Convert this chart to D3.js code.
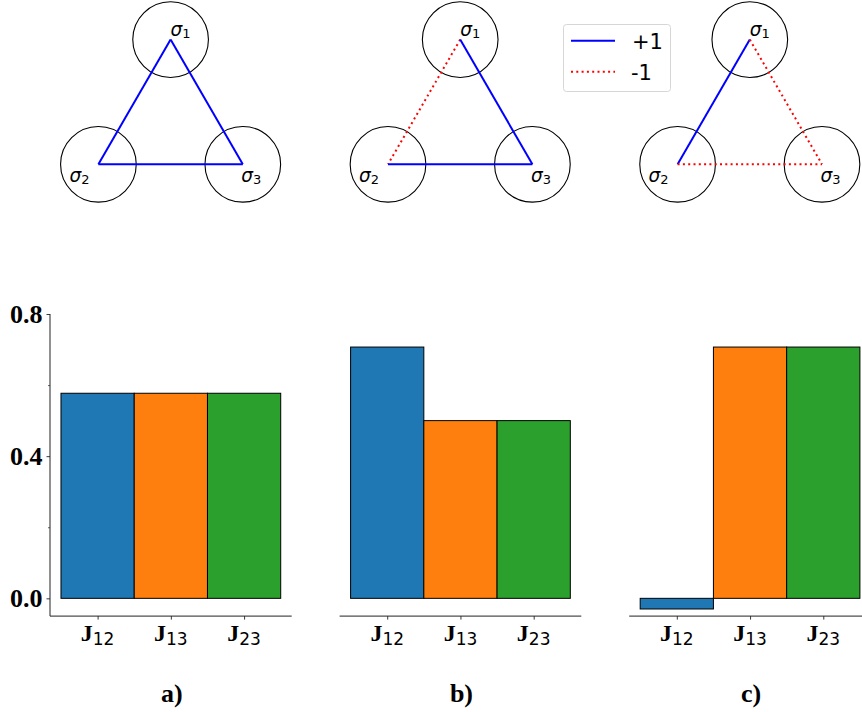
<!DOCTYPE html>
<html>
<head>
<meta charset="utf-8">
<script src="https://cdn.jsdelivr.net/npm/d3@7"></script>
<style>
  html, body { margin: 0; padding: 0; background: #fff; }
  svg { display: block; }
</style>
</head>
<body>
<svg id="chart" width="862" height="712"></svg>
<script>
// Coupling amplitudes J12, J13, J23 for the three spin configurations
const categories = ["12", "13", "23"];
const panelLabels = ["a)", "b)", "c)"];
const valuesA = [0.577, 0.577, 0.577];
const valuesB = [0.707, 0.5, 0.5];
const valuesC = [-0.03, 0.707, 0.707];
const seriesValues = [valuesA, valuesB, valuesC];

// Sign of each bond (J12, J13, J23) in the triangle diagrams
const signsA = [1, 1, 1];
const signsB = [-1, 1, 1];
const signsC = [1, -1, -1];
const bondSigns = [signsA, signsB, signsC];

const spinNames = ["1", "2", "3"];
const legendItems = ["+1", "-1"];
const yTickValues = [0.0, 0.4, 0.8];
const yTickLabels = ["0.0", "0.4", "0.8"];
const yMinorTicks = [0.2, 0.6];

const barColors = ["#1f77b4", "#ff7f0e", "#2ca02c"];
const bondColor = { "1": "#0000ff", "-1": "#ff0000" };

const svg = d3.select("#chart");

// ---- Layout
const panelStep = 289.6;
const axLeft0 = 50, axWidth = 241.7;
const yScale = d3.scaleLinear().domain([-0.05, 0.8]).range([616.1, 314]);

// ---- Triangle diagrams
// Spin sites on an equilateral triangle (unit side), and the bonds between them
const site = { "1": [0, Math.sqrt(3) / 2], "2": [-0.5, 0], "3": [0.5, 0] };
const bonds = [["1", "2"], ["1", "3"], ["2", "3"]];
const siteRadius = 0.262;
const labelOffset = { "1": [0, -4], "2": [-29, 18], "3": [-1.5, 18] };

bondSigns.forEach((signs, p) => {
  const cx = 170.6 + p * panelStep;
  const tx = d3.scaleLinear().domain([-0.5, 0.5]).range([cx - 72.2, cx + 72.2]);
  const ty = d3.scaleLinear().domain([0, Math.sqrt(3) / 2]).range([164.3, 39.6]);
  const g = svg.append("g");

  g.selectAll("circle").data(spinNames).join("circle")
    .attr("cx", d => tx(site[d][0]))
    .attr("cy", d => ty(site[d][1]))
    .attr("r", tx(siteRadius) - tx(0))
    .attr("fill", "none")
    .attr("stroke", "#000")
    .attr("stroke-width", 1.1);

  g.selectAll("line.bond").data(bonds.map((b, i) => ({ b, s: signs[i] }))).join("line")
    .attr("class", "bond")
    .attr("x1", d => tx(site[d.b[0]][0])).attr("y1", d => ty(site[d.b[0]][1]))
    .attr("x2", d => tx(site[d.b[1]][0])).attr("y2", d => ty(site[d.b[1]][1]))
    .attr("stroke", d => bondColor[d.s])
    .attr("stroke-width", 2)
    .attr("stroke-dasharray", d => d.s < 0 ? "2,3.3" : null);

  const lab = g.selectAll("text").data(spinNames).join("text")
    .attr("x", d => tx(site[d][0]) + labelOffset[d][0])
    .attr("y", d => ty(site[d][1]) + labelOffset[d][1])
    .attr("font-family", "DejaVu Sans")
    .attr("fill", "#000");
  lab.append("tspan").attr("font-size", 18.5).attr("font-style", "italic").text("σ");
  lab.append("tspan").attr("font-size", 13).attr("dy", 2).text(d => d);
});

// ---- Legend
const lg = svg.append("g");
lg.append("rect")
  .attr("x", 563.5).attr("y", 24.5).attr("width", 107).attr("height", 67)
  .attr("rx", 3).attr("fill", "#fff").attr("stroke", "#d6d6d6").attr("stroke-width", 1);
legendItems.forEach((t, i) => {
  const y = 40.8 + i * 31;
  lg.append("line")
    .attr("x1", 571).attr("x2", 615).attr("y1", y).attr("y2", y)
    .attr("stroke", i === 0 ? bondColor["1"] : bondColor["-1"])
    .attr("stroke-width", 2)
    .attr("stroke-dasharray", i === 0 ? null : "2,3.3");
  lg.append("text")
    .attr("x", i === 0 ? 632 : 631).attr("y", y + 7.8)
    .attr("font-family", "DejaVu Sans").attr("font-size", 21)
    .attr("fill", "#000").text(t);
});

// ---- Bar panels
seriesValues.forEach((vals, p) => {
  const left = axLeft0 + p * panelStep;
  const x = d3.scaleLinear().domain([-0.65, 2.65]).range([left, left + axWidth]);
  const g = svg.append("g");

  g.selectAll("rect").data(vals).join("rect")
    .attr("x", (d, i) => x(i - 0.5))
    .attr("width", (d, i) => x(i + 0.5) - x(i - 0.5))
    .attr("y", d => yScale(Math.max(0, d)))
    .attr("height", d => Math.abs(yScale(d) - yScale(0)))
    .attr("fill", (d, i) => barColors[i])
    .attr("stroke", "#000")
    .attr("stroke-width", 1);

  // bottom axis
  const xAxis = d3.axisBottom(x).tickValues([0, 1, 2]).tickSize(3.5).tickFormat("");
  const ax = g.append("g").attr("transform", `translate(0,${yScale.range()[0]})`).call(xAxis);
  ax.select(".domain").attr("stroke", "#222").attr("stroke-width", 1).attr("d", `M${left},0H${left + axWidth}`);
  ax.selectAll(".tick line").attr("stroke", "#222").attr("stroke-width", 0.9);

  const lbl = g.selectAll("text.jl").data(categories).join("text")
    .attr("class", "jl")
    .attr("x", (d, i) => x(i))
    .attr("y", 641)
    .attr("text-anchor", "middle")
    .attr("fill", "#000");
  lbl.append("tspan").attr("font-family", "Liberation Serif").attr("font-weight", "bold")
    .attr("font-size", 24).text("J");
  lbl.append("tspan").attr("font-family", "DejaVu Sans").attr("font-size", 17)
    .attr("dy", 4).text(d => d);

  g.append("text")
    .attr("x", (x(-0.65) + x(2.65)) / 2 + 1)
    .attr("y", 702)
    .attr("text-anchor", "middle")
    .attr("font-family", "Liberation Serif").attr("font-weight", "bold")
    .attr("font-size", 26).attr("fill", "#000")
    .text(panelLabels[p]);

  if (p === 0) {
    const yAxis = d3.axisLeft(yScale).tickValues(yTickValues)
      .tickFormat((d, i) => yTickLabels[i]).tickSize(3.5).tickPadding(4);
    const ya = g.append("g").attr("transform", `translate(${left},0)`).call(yAxis);
    ya.select(".domain").attr("stroke", "#222").attr("stroke-width", 1)
      .attr("d", `M0,${yScale.range()[0]}V${yScale.range()[1]}`);
    ya.selectAll(".tick line").attr("stroke", "#222").attr("stroke-width", 0.9);
    ya.selectAll(".tick text")
      .attr("font-family", "Liberation Serif").attr("font-weight", "bold")
      .attr("font-size", 26).attr("fill", "#000");
    const yMinor = d3.axisLeft(yScale).tickValues(yMinorTicks).tickSize(2).tickFormat("");
    const ym = g.append("g").attr("transform", `translate(${left},0)`).call(yMinor);
    ym.select(".domain").remove();
    ym.selectAll(".tick line").attr("stroke", "#222").attr("stroke-width", 0.7);
  }
});
</script>
</body>
</html>
